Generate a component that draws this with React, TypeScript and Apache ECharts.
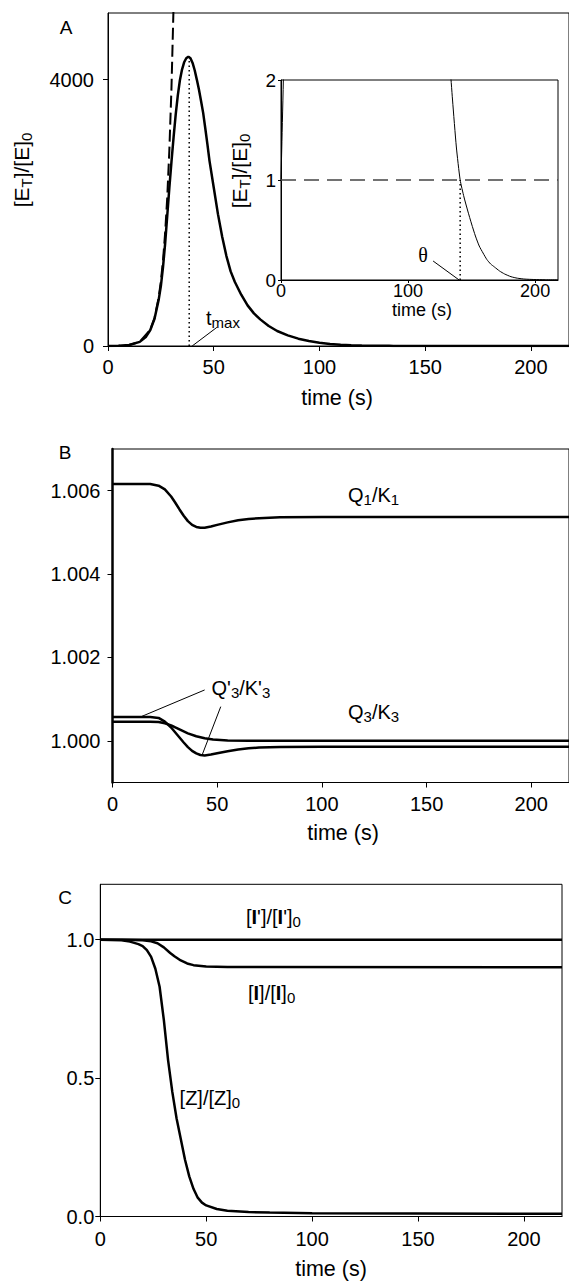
import React, { useEffect, useRef } from 'react';
import * as echarts from 'echarts';

const FONT = "'Liberation Sans', Arial, Helvetica, sans-serif";
const SERIF = "'Liberation Serif', 'Times New Roman', serif";

// ---------- Panel A: [E_T]/[E]_0 versus time ----------
const etTime = [0, 5, 10, 15, 18, 20, 22, 24, 25, 26, 27, 28, 29, 30, 31, 32, 33, 34, 35, 36, 37, 38, 39, 40, 41, 42, 43, 44, 45, 46, 47, 48, 50, 52, 54, 56, 58, 60, 63, 66, 69, 72, 76, 80, 85, 90, 95, 100, 105, 110, 115, 120, 125, 130, 133, 135, 138, 141, 144, 147, 150, 153, 156, 159, 162, 165, 168, 172, 176, 181, 186, 192, 199, 208, 218];
const etRatio = [1, 4, 16, 62, 140, 240, 410, 700, 900, 1180, 1530, 1950, 2370, 2760, 3130, 3470, 3760, 3990, 4150, 4260, 4320, 4345, 4320, 4250, 4140, 4000, 3850, 3680, 3500, 3270, 3030, 2780, 2380, 1980, 1640, 1350, 1120, 960, 770, 610, 490, 400, 300, 225, 160, 110, 75, 48, 30, 18, 11, 6.8, 4.3, 2.8, 2.15, 1.8, 1.33, 1.0, 0.83, 0.69, 0.56, 0.44, 0.34, 0.27, 0.205, 0.16, 0.13, 0.09, 0.06, 0.033, 0.018, 0.009, 0.005, 0.002, 0.001];
const expTime = [0, 5, 10, 15, 20, 22, 24, 25, 26, 27, 28, 29, 30, 31, 31.5];
const expRatio = [1, 4, 16, 62, 245, 420, 735, 970, 1280, 1690, 2220, 2930, 3860, 5100, 5850];
const tmaxTime = 38.4;
const tmaxValue = 4345;
const tmaxLeaderTime = [51.5, 39.8];
const tmaxLeaderValue = [280, 0];

// ---------- Inset ----------
const unityLevel = 1;
const thetaTime = 141;
const thetaLeaderTime = [119.7, 140.2];
const thetaLeaderValue = [0.19, 0];

// ---------- Panel B: Q/K ratios ----------
const q1Time = [0, 18, 22, 25, 28, 30, 32, 34, 36, 38, 40, 42, 44, 47, 50, 55, 60, 65, 70, 80, 100, 218];
const q1Ratio = [1.00616, 1.00616, 1.00612, 1.00603, 1.00586, 1.00571, 1.00555, 1.0054, 1.00527, 1.00518, 1.00513, 1.00511, 1.00511, 1.00514, 1.00518, 1.00524, 1.00529, 1.00532, 1.00534, 1.00536, 1.00537, 1.00537];
const q3pTime = [0, 18, 22, 25, 28, 30, 32, 34, 36, 38, 40, 42, 44, 47, 50, 55, 60, 65, 70, 80, 100, 218];
const q3pRatio = [1.00057, 1.00057, 1.00055, 1.00046, 1.00032, 1.0002, 1.00008, 0.99996, 0.99985, 0.99976, 0.9997, 0.99966, 0.99965, 0.99967, 0.9997, 0.99975, 0.99979, 0.99982, 0.99984, 0.99985, 0.99986, 0.99986];
const q3Time = [0, 18, 22, 25, 28, 30, 33, 36, 40, 44, 48, 55, 65, 218];
const q3Ratio = [1.00046, 1.00046, 1.00045, 1.00042, 1.00037, 1.00032, 1.00025, 1.00018, 1.00011, 1.00006, 1.00003, 1.00001, 1.0, 1.0];
const qpLeader1Time = [44, 13.7];
const qpLeader1Value = [1.00122, 1.00058];
const qpLeader2Time = [51.7, 42.8];
const qpLeader2Value = [1.00082, 0.99966];

// ---------- Panel C: normalised concentrations ----------
const iPrimeTime = [0, 218];
const iPrimeRatio = [1, 1];
const iTime = [0, 10, 15, 20, 24, 27, 30, 33, 35, 38, 41, 44, 50, 60, 218];
const iRatio = [1, 1, 0.999, 0.998, 0.994, 0.987, 0.972, 0.952, 0.94, 0.925, 0.914, 0.908, 0.903, 0.901, 0.9];
const zTime = [0, 10, 14, 18, 20, 22, 24, 26, 28, 30, 32, 34, 36, 38, 40, 42, 44, 46, 48, 50, 55, 60, 70, 80, 100, 150, 218];
const zRatio = [1, 0.998, 0.993, 0.984, 0.977, 0.962, 0.938, 0.895, 0.83, 0.71, 0.565, 0.45, 0.355, 0.28, 0.205, 0.145, 0.1, 0.068, 0.05, 0.04, 0.027, 0.021, 0.016, 0.014, 0.012, 0.011, 0.01];

// ---------- Tick values ----------
const timeMax = 218;
const xTicksMain = [0, 50, 100, 150, 200];
const xTicksInset = [0, 100, 200];
const yTicksA = [0, 4000];
const yTicksInset = [0, 1, 2];
const yTicksB = [1.0, 1.002, 1.004, 1.006];
const yTicksC = [0, 0.5, 1.0];

const zip = (xs: number[], ys: number[]) => xs.map((x, i) => [x, ys[i]]);

const rich = (size: number, sub: number, lh: number) => ({
  n: { fontSize: size, lineHeight: lh, fontFamily: FONT, color: '#000' },
  b: { fontSize: size, lineHeight: lh, fontFamily: FONT, color: '#000', fontWeight: 'bold' },
  s: { fontSize: sub, lineHeight: 10, verticalAlign: 'bottom', fontFamily: FONT, color: '#000' },
  g: { fontSize: size, lineHeight: lh, fontFamily: SERIF, color: '#000' },
});

function label(text: string, x: number, y: number, opts: any = {}) {
  const size = opts.size || 20;
  return {
    type: 'text',
    x,
    y,
    rotation: opts.rotate ? Math.PI / 2 : 0,
    silent: true,
    z: 100,
    style: {
      text,
      rich: rich(size, opts.sub || Math.round(size * 0.75), opts.lh || size + 4),
      align: opts.align || 'left',
      verticalAlign: 'middle',
      fill: '#000',
      fontSize: size,
      fontFamily: FONT,
    },
  };
}

function xAxis(gridIndex: number, ticks: number[], margin: number, tickLen = 5, fontSize = 20) {
  return {
    type: 'value',
    gridIndex,
    min: 0,
    max: timeMax,
    interval: 50,
    axisLine: { show: true, onZero: false, lineStyle: { color: '#000', width: 1 } },
    axisTick: { show: true, inside: false, length: tickLen, customValues: ticks, lineStyle: { color: '#000', width: 1 } },
    axisLabel: { show: true, customValues: ticks, margin, fontSize, lineHeight: fontSize, color: '#000', fontFamily: FONT },
    splitLine: { show: false },
  };
}

function yAxis(gridIndex: number, min: number, max: number, ticks: number[], margin: number, fmt: (v: number) => string, opts: any = {}) {
  return {
    type: 'value',
    gridIndex,
    min,
    max,
    axisLine: { show: true, onZero: false, lineStyle: { color: '#000', width: opts.lineWidth || 1 } },
    axisTick: { show: true, inside: false, length: opts.tickLen || 5, customValues: ticks, lineStyle: { color: '#000', width: 1 } },
    axisLabel: { show: true, customValues: ticks, margin, fontSize: opts.fontSize || 20, color: '#000', fontFamily: FONT, formatter: fmt },
    splitLine: { show: false },
  };
}

function line(idx: number, data: number[][], width: number, extra: any = {}) {
  return {
    type: 'line',
    xAxisIndex: idx,
    yAxisIndex: idx,
    data,
    showSymbol: false,
    symbol: 'none',
    silent: true,
    clip: true,
    smooth: extra.smooth || false,
    lineStyle: { color: extra.color || '#000', width, type: extra.type || 'solid' },
    z: extra.z || 3,
  };
}

export default function App() {
  const ref = useRef<HTMLDivElement>(null);
  useEffect(() => {
    if (!ref.current) return;
    const chart = echarts.init(ref.current, undefined, { renderer: 'svg' });
    const option: any = {
      animation: false,
      backgroundColor: '#fff',
      textStyle: { fontFamily: FONT },
      grid: [
        { left: 108, top: 13, width: 462, height: 333, show: true, borderColor: '#000', borderWidth: 1, containLabel: false },
        { left: 281, top: 80, width: 277, height: 200, show: true, borderColor: '#000', borderWidth: 1, containLabel: false },
        { left: 112.5, top: 449, width: 461.6, height: 333.5, show: true, borderColor: '#000', borderWidth: 1, containLabel: false },
        { left: 100.3, top: 884.3, width: 461.7, height: 332.2, show: true, borderColor: '#000', borderWidth: 1, containLabel: false },
      ],
      xAxis: [
        xAxis(0, xTicksMain, 11),
        xAxis(1, xTicksInset, 2, 3, 18),
        xAxis(2, xTicksMain, 11),
        xAxis(3, xTicksMain, 12),
      ],
      yAxis: [
        yAxis(0, 0, 5000, yTicksA, 14, (v) => String(Math.round(v))),
        yAxis(1, 0, 2, yTicksInset, 5, (v) => String(Math.round(v)), { tickLen: 3, fontSize: 19 }),
        yAxis(2, 0.999, 1.007, yTicksB, 12, (v) => v.toFixed(3), { lineWidth: 2.5 }),
        yAxis(3, 0, 1.2, yTicksC, 6, (v) => v.toFixed(1)),
      ],
      series: [
        // Panel A
        line(0, zip(etTime, etRatio), 2.5),
        line(0, zip(expTime, expRatio), 2, { type: [12, 5] }),
        line(0, [[tmaxTime, 0], [tmaxTime, tmaxValue]], 1.5, { type: [1.5, 3] }),
        line(0, zip(tmaxLeaderTime, tmaxLeaderValue), 1),
        // Inset
        line(1, zip(etTime, etRatio), 1, { smooth: 0.2 }),
        line(1, [[0, unityLevel], [timeMax, unityLevel]], 1.5, { type: [15, 8], color: '#444' }),
        line(1, [[thetaTime, 0], [thetaTime, unityLevel]], 1.5, { type: [1.5, 3] }),
        line(1, zip(thetaLeaderTime, thetaLeaderValue), 1),
        // Panel B
        line(2, zip(q1Time, q1Ratio), 2.5),
        line(2, zip(q3pTime, q3pRatio), 2.5),
        line(2, zip(q3Time, q3Ratio), 2.5),
        line(2, zip(qpLeader1Time, qpLeader1Value), 1),
        line(2, zip(qpLeader2Time, qpLeader2Value), 1),
        // Panel C
        line(3, zip(iPrimeTime, iPrimeRatio), 2.5),
        line(3, zip(iTime, iRatio), 2.5),
        line(3, zip(zTime, zRatio), 2.5),
      ],
      graphic: [
        label('{n|A}', 66, 27, { align: 'center', size: 19 }),
        label('{n|B}', 65, 452, { align: 'center', size: 19 }),
        label('{n|C}', 65, 897, { align: 'center', size: 19 }),
        label('{n|[E}{s|T}{n|]/[E]}{s|0}', 21, 170, { align: 'center', rotate: true, size: 21, sub: 15 }),
        label('{n|[E}{s|T}{n|]/[E]}{s|0}', 239, 171, { align: 'center', rotate: true, size: 21, sub: 15 }),
        label('{n|time (s)}', 337, 398, { align: 'center', size: 21.5 }),
        label('{n|time (s)}', 422, 310, { align: 'center', size: 18, lh: 18 }),
        label('{n|time (s)}', 343, 833, { align: 'center', size: 21.5 }),
        label('{n|time (s)}', 331, 1269, { align: 'center', size: 21.5 }),
        label('{n|t}{s|max}', 206, 318, { size: 20, sub: 15 }),
        label('{g|θ}', 423, 255, { align: 'center' }),
        label('{n|Q}{s|1}{n|/K}{s|1}', 348, 495, { size: 20, sub: 15 }),
        label("{n|Q'}{s|3}{n|/K'}{s|3}", 211.5, 688, { size: 20, sub: 15 }),
        label('{n|Q}{s|3}{n|/K}{s|3}', 348, 712, { size: 20, sub: 15 }),
        label("{n|[}{b|I}{n|']/[}{b|I}{n|']}{s|0}", 246, 917, { size: 20, sub: 15 }),
        label('{n|[}{b|I}{n|]/[}{b|I}{n|]}{s|0}', 248, 993, { size: 20, sub: 15 }),
        label('{n|[Z]/[Z]}{s|0}', 179.6, 1098, { size: 20, sub: 15 }),
      ],
    };
    chart.setOption(option);
    return () => chart.dispose();
  }, []);
  return <div ref={ref} style={{ position: 'absolute', left: 0, top: 0, width: 569, height: 1281, background: '#fff' }} />;
}
